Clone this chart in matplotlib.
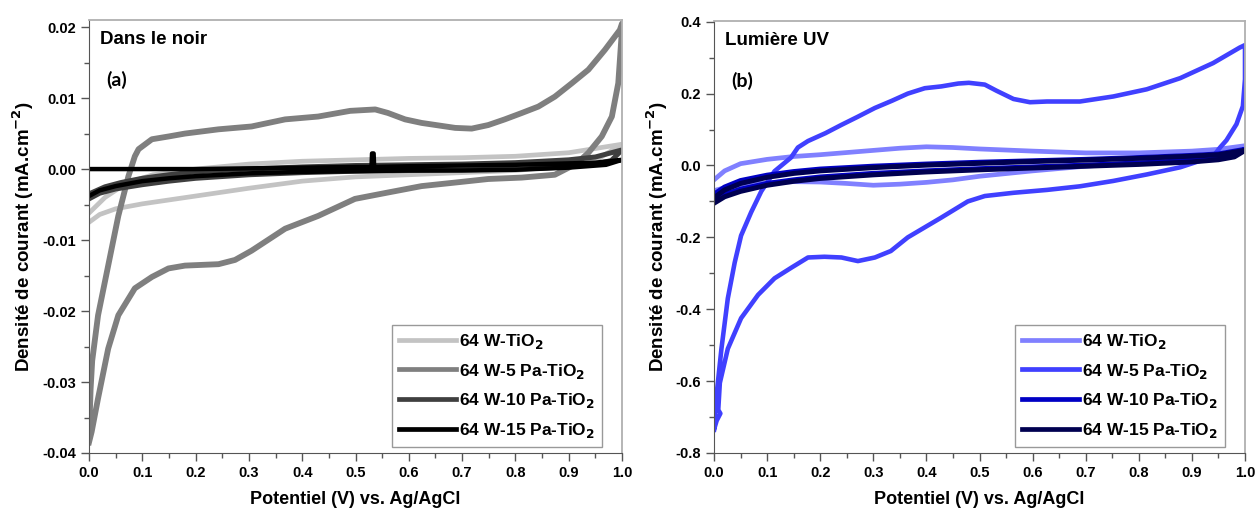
import matplotlib
matplotlib.use("Agg")
import matplotlib.pyplot as plt
from matplotlib.ticker import MultipleLocator, FormatStrFormatter

plt.rcParams["font.family"] = ["Liberation Sans", "DejaVu Sans"]
plt.rcParams["font.weight"] = "bold"
plt.rcParams["axes.unicode_minus"] = False

# ---- panel (a): dans le noir ----
noir_w_v = [0.0, 0.03, 0.07, 0.12, 0.2, 0.3, 0.4, 0.5, 0.6, 0.7, 0.8, 0.9, 1.0,
            0.95, 0.9, 0.8, 0.7, 0.6, 0.5, 0.4, 0.3, 0.2, 0.1, 0.05, 0.02, 0.0]
noir_w_j = [-0.0062, -0.004, -0.002, -0.0008, 0.0, 0.0007, 0.0011, 0.0013, 0.0015, 0.0016, 0.0018, 0.0023, 0.0035,
            0.0012, 0.0005, -0.0002, -0.0005, -0.0008, -0.0011, -0.0017, -0.0027, -0.0038, -0.0049, -0.0056, -0.0064, -0.0075]

noir_5pa_v = [0.0, 0.003, 0.006, 0.017, 0.036, 0.055, 0.074, 0.086, 0.093, 0.118, 0.15, 0.18, 0.243, 0.305,
              0.368, 0.43, 0.49, 0.537, 0.561, 0.593, 0.624, 0.687, 0.718, 0.749, 0.78, 0.812, 0.843, 0.874,
              0.906, 0.937, 0.968, 0.996, 1.0,
              0.999, 0.993, 0.981, 0.962, 0.937, 0.924, 0.9, 0.874, 0.812, 0.749, 0.687, 0.624, 0.561, 0.499,
              0.43, 0.368, 0.305, 0.274, 0.243, 0.18, 0.149, 0.118, 0.086, 0.055, 0.036, 0.017, 0.005, 0.0]
noir_5pa_j = [-0.038, -0.031, -0.027, -0.0206, -0.0136, -0.0066, -0.001, 0.0018, 0.0028, 0.0042, 0.0046, 0.005, 0.0056, 0.006,
              0.007, 0.0074, 0.0082, 0.0084, 0.0079, 0.007, 0.0065, 0.0058, 0.0057, 0.0062, 0.007, 0.0079, 0.0088, 0.0102,
              0.0121, 0.014, 0.0168, 0.0196, 0.0205,
              0.0186, 0.0121, 0.0074, 0.0046, 0.0023, 0.0014, 0.0002, -0.0008, -0.0012, -0.0014, -0.0019, -0.0024, -0.0033, -0.0042,
              -0.0066, -0.0084, -0.0115, -0.0128, -0.0134, -0.0136, -0.014, -0.0152, -0.0168, -0.0206, -0.0253, -0.0323, -0.037, -0.0385]

noir_10pa_v = [0.0, 0.03, 0.06, 0.1, 0.15, 0.2, 0.3, 0.4, 0.5, 0.6, 0.7, 0.8, 0.9, 0.95, 1.0,
               0.98, 0.95, 0.9, 0.8, 0.7, 0.6, 0.5, 0.4, 0.3, 0.2, 0.15, 0.1, 0.05, 0.02, 0.0]
noir_10pa_j = [-0.0035, -0.0025, -0.0019, -0.0013, -0.0008, -0.0004, 0.0, 0.0003, 0.0005, 0.0006, 0.0007, 0.0009, 0.0013, 0.0017, 0.0027,
               0.0012, 0.0007, 0.0003, 0.0, -0.0001, -0.0002, -0.0003, -0.0005, -0.0008, -0.0013, -0.0017, -0.0022, -0.0028, -0.0034, -0.0042]

noir_15pa_v = [0.0, 0.1, 0.2, 0.3, 0.4, 0.5, 0.53, 0.531, 0.534, 0.535, 0.6, 0.7, 0.8, 0.9, 0.95, 1.0,
               0.97, 0.9, 0.8, 0.7, 0.6, 0.5, 0.4, 0.3, 0.2, 0.15, 0.1, 0.05, 0.02, 0.0]
noir_15pa_j = [0.0, 0.0, 0.0, 0.0001, 0.0002, 0.0003, 0.0003, 0.0022, 0.0022, 0.0003, 0.0004, 0.0005, 0.0006, 0.0008, 0.0009, 0.0013,
               0.0006, 0.0002, -0.0001, -0.0002, -0.0002, -0.0003, -0.0004, -0.0006, -0.001, -0.0013, -0.0017, -0.0024, -0.003, -0.0038]

# ---- panel (b): lumiere UV ----
uv_w_v = [0.0, 0.02, 0.05, 0.1, 0.15, 0.2, 0.25, 0.3, 0.35, 0.4, 0.45, 0.5, 0.6, 0.7, 0.8, 0.9, 0.95, 1.0,
          0.98, 0.95, 0.9, 0.8, 0.7, 0.6, 0.5, 0.45, 0.4, 0.35, 0.3, 0.25, 0.2, 0.15, 0.1, 0.05, 0.02, 0.0]
uv_w_j = [-0.04, -0.015, 0.005, 0.017, 0.025, 0.03, 0.036, 0.042, 0.048, 0.052, 0.05, 0.046, 0.04, 0.035, 0.035, 0.04, 0.045, 0.055,
          0.035, 0.025, 0.018, 0.008, -0.002, -0.015, -0.03, -0.04, -0.047, -0.052, -0.055, -0.05, -0.046, -0.045, -0.048, -0.055, -0.062, -0.07]

uv_5pa_v = [0.0, 0.004, 0.014, 0.026, 0.039, 0.051, 0.07, 0.089, 0.114, 0.145, 0.158, 0.177, 0.21, 0.24, 0.27, 0.303,
            0.335, 0.365, 0.397, 0.428, 0.46, 0.48, 0.51, 0.532, 0.564, 0.595, 0.627, 0.689, 0.752, 0.815, 0.878,
            0.94, 0.99, 1.0,
            1.0, 0.996, 0.984, 0.965, 0.953, 0.94, 0.878, 0.815, 0.752, 0.689, 0.627, 0.564, 0.51, 0.478, 0.428,
            0.365, 0.333, 0.303, 0.271, 0.24, 0.208, 0.177, 0.145, 0.114, 0.083, 0.051, 0.026, 0.011, 0.008, 0.012,
            0.005, 0.0]
uv_5pa_j = [-0.735, -0.65, -0.51, -0.37, -0.27, -0.195, -0.13, -0.072, -0.016, 0.022, 0.05, 0.068, 0.09, 0.113, 0.135, 0.16,
            0.18, 0.2, 0.215, 0.22, 0.228, 0.23, 0.225, 0.208, 0.185, 0.176, 0.178, 0.178, 0.192, 0.212, 0.243,
            0.285, 0.328, 0.335,
            0.24, 0.165, 0.115, 0.07, 0.05, 0.025, -0.005, -0.025, -0.043, -0.058, -0.068, -0.076, -0.085, -0.1, -0.145,
            -0.2, -0.238, -0.256, -0.266, -0.256, -0.254, -0.256, -0.285, -0.314, -0.36, -0.425, -0.51, -0.605, -0.68, -0.69,
            -0.71, -0.735]

uv_10pa_v = [0.0, 0.02, 0.05, 0.1, 0.15, 0.2, 0.3, 0.4, 0.5, 0.6, 0.7, 0.8, 0.9, 0.95, 1.0,
             0.98, 0.95, 0.9, 0.8, 0.7, 0.6, 0.5, 0.4, 0.3, 0.2, 0.15, 0.1, 0.05, 0.02, 0.0]
uv_10pa_j = [-0.08, -0.06, -0.042, -0.027, -0.017, -0.01, -0.002, 0.004, 0.009, 0.013, 0.017, 0.022, 0.028, 0.032, 0.045,
             0.028, 0.02, 0.014, 0.007, 0.001, -0.004, -0.009, -0.015, -0.022, -0.032, -0.04, -0.05, -0.066, -0.08, -0.095]

uv_15pa_v = [0.0, 0.02, 0.05, 0.1, 0.15, 0.2, 0.3, 0.4, 0.5, 0.6, 0.7, 0.8, 0.9, 0.95, 1.0,
             0.98, 0.95, 0.9, 0.8, 0.7, 0.6, 0.5, 0.4, 0.3, 0.2, 0.15, 0.1, 0.05, 0.02, 0.0]
uv_15pa_j = [-0.09, -0.068, -0.05, -0.033, -0.022, -0.015, -0.006, 0.001, 0.006, 0.011, 0.015, 0.02, 0.026, 0.03, 0.042,
             0.024, 0.016, 0.01, 0.003, -0.002, -0.007, -0.012, -0.018, -0.026, -0.036, -0.044, -0.055, -0.072, -0.087, -0.105]

labels = ["64 W-TiO$_2$", "64 W-5 Pa-TiO$_2$", "64 W-10 Pa-TiO$_2$", "64 W-15 Pa-TiO$_2$"]
gray_colors = ["#c3c3c3", "#7f7f7f", "#3f3f3f", "#000000"]
blue_colors = ["#8080ff", "#4040ff", "#0000c4", "#000050"]


def style_axes(ax, ymin, ymax, ymajor, yminor, yfmt):
    ax.set_xlim(0.0, 1.0)
    ax.set_ylim(ymin, ymax)
    ax.xaxis.set_major_locator(MultipleLocator(0.1))
    ax.xaxis.set_minor_locator(MultipleLocator(0.05))
    ax.yaxis.set_major_locator(MultipleLocator(ymajor))
    ax.yaxis.set_minor_locator(MultipleLocator(yminor))
    ax.xaxis.set_major_formatter(FormatStrFormatter("%.1f"))
    ax.yaxis.set_major_formatter(FormatStrFormatter(yfmt))
    ax.tick_params(which="both", direction="out", top=False, right=False,
                   labelsize=10.5, color="#555555")
    ax.tick_params(which="major", length=6, width=1)
    ax.tick_params(which="minor", length=3.5, width=1)
    for lab in ax.get_xticklabels() + ax.get_yticklabels():
        lab.set_fontweight("bold")
    for side in ["left", "bottom"]:
        ax.spines[side].set_color("#555555")
    for side in ["top", "right"]:
        ax.spines[side].set_color("#b0b0b0")
        ax.spines[side].set_linewidth(1.3)
    ax.set_xlabel("Potentiel (V) vs. Ag/AgCl", fontsize=13, fontweight="bold", labelpad=8)
    ax.set_ylabel("Densité de courant (mA.cm$^{\\mathbf{-2}}$)", fontsize=13.5, fontweight="bold", labelpad=4)
    leg = ax.legend(loc="lower right", bbox_to_anchor=(1 - 20 / 533, 6 / 433), borderaxespad=0,
                    fancybox=False, edgecolor="#808080", fontsize=12.5, handlelength=3.3,
                    handletextpad=0.15, labelspacing=0.62, borderpad=0.4)
    leg.get_frame().set_linewidth(1.0)
    for t in leg.get_texts():
        t.set_fontweight("bold")
    for h in leg.get_lines():
        h.set_linewidth(3.4)


fig = plt.figure(figsize=(12.57, 5.15), dpi=100)
ax1 = fig.add_axes([89 / 1257, 62 / 515, 533 / 1257, 433 / 515])
ax2 = fig.add_axes([714 / 1257, 62 / 515, 531 / 1257, 432 / 515])

noir = [(noir_w_v, noir_w_j), (noir_5pa_v, noir_5pa_j), (noir_10pa_v, noir_10pa_j), (noir_15pa_v, noir_15pa_j)]
for (v, j), c, lab, lw in zip(noir, gray_colors, labels, [3.4, 4.2, 3.6, 3.2]):
    ax1.plot(v, j, color=c, lw=lw, label=lab, solid_joinstyle="round")

uv = [(uv_w_v, uv_w_j), (uv_5pa_v, uv_5pa_j), (uv_10pa_v, uv_10pa_j), (uv_15pa_v, uv_15pa_j)]
for (v, j), c, lab, lw in zip(uv, blue_colors, labels, [3.4, 3.3, 3.6, 3.6]):
    ax2.plot(v, j, color=c, lw=lw, label=lab, solid_joinstyle="round")

style_axes(ax1, -0.04, 0.021, 0.01, 0.005, "%.2f")
style_axes(ax2, -0.8, 0.402, 0.2, 0.1, "%.1f")

ax1.text(0.02, 0.955, "Dans le noir", transform=ax1.transAxes, fontsize=13.5,
         fontweight="bold", va="center", ha="left")
ax1.text(0.033, 0.862, "(a)", transform=ax1.transAxes, fontsize=14,
         fontweight="bold", va="center", ha="left", family=["Lato", "DejaVu Sans"])
ax2.text(0.02, 0.955, "Lumière UV", transform=ax2.transAxes, fontsize=13.5,
         fontweight="bold", va="center", ha="left")
ax2.text(0.033, 0.862, "(b)", transform=ax2.transAxes, fontsize=14,
         fontweight="bold", va="center", ha="left", family=["Lato", "DejaVu Sans"])

fig.savefig("out.png", dpi=100)
